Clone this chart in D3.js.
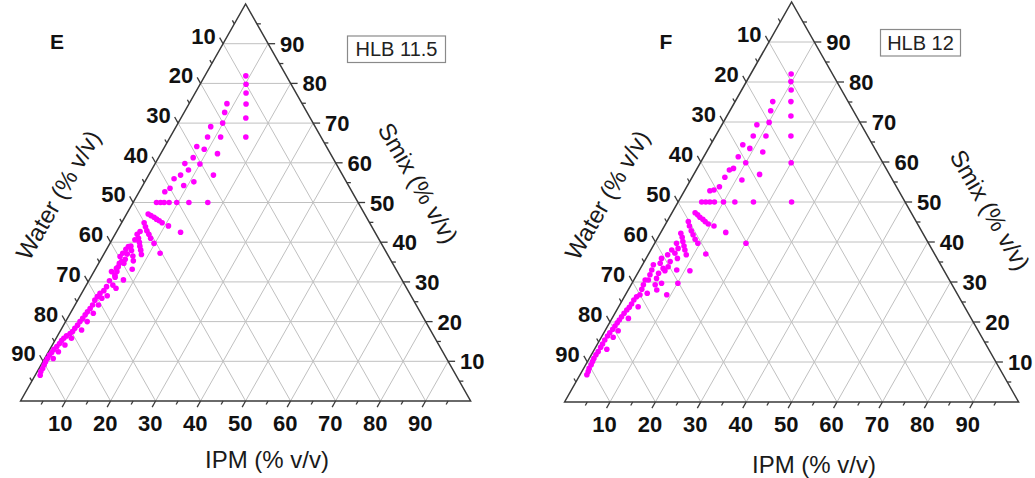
<!DOCTYPE html>
<html>
<head>
<meta charset="utf-8">
<script src="https://cdn.jsdelivr.net/npm/d3@7"></script>
<style>
  body { margin: 0; background: #fff; }
  text { font-family: "Liberation Sans", Arial, sans-serif; }
</style>
</head>
<body>
<svg id="chart" width="1035" height="478"></svg>
<script>
// ticks shared by all three ternary axes (% v/v)
const tickValues = [10, 20, 30, 40, 50, 60, 70, 80, 90];
const minorTickValues = [5, 15, 25, 35, 45, 55, 65, 75, 85, 95];

const ipmTitle = "IPM (% v/v)";
const waterTitle = "Water (% v/v)";
const smixTitle = "Smix (% v/v)";

const panelLetters = ["E", "F"];
const hlbLabels = ["HLB 11.5", "HLB 12"];

// boundary points as [IPM, Smix] (Water = 100 - IPM - Smix)
const pointsE = [
  [9.1, 81.9], [10.2, 79.8], [11.3, 77.6], [12.7, 74.8], [14.4, 71.3], [16.8, 66.5],
  [8.4, 74.9], [9.0, 72.7], [9.9, 70.0], [11.2, 66.5], [12.6, 62.3], [14.4, 56.9],
  [7.7, 69.1], [8.3, 66.5], [9.1, 63.4], [10.0, 59.7], [10.9, 55.2],
  [7.1, 64.1], [7.7, 61.3], [8.2, 58.2], [9.1, 54.3],
  [6.6, 59.8], [7.1, 56.9], [6.1, 56.0], [6.4, 53.6], [5.7, 52.7],
  [5.2, 50], [6.1, 50], [6.9, 50], [8.0, 50], [9.7, 50], [12.4, 50], [16.6, 50],
  [4.8, 47.1], [5.6, 46.7], [6.5, 46.3], [7.3, 45.8], [8.1, 45.4], [9.0, 44.9], [10.8, 44.1], [14.3, 42.5],
  [5.0, 44.9], [5.8, 43.9], [6.6, 42.9], [7.5, 42.0], [8.4, 41.0], [9.8, 39.7], [12.4, 37.2],
  [4.9, 42.0], [5.7, 41.0], [6.4, 40.0], [7.0, 39.0], [7.7, 38.0], [8.4, 36.9],
  [5.0, 39.0], [5.7, 37.9], [6.7, 36.5], [7.4, 35.3], [8.2, 33.2],
  [4.3, 38.2], [5.2, 37.0], [5.4, 35.7], [5.6, 34.7], [7.6, 30.5],
  [3.9, 36.4], [4.9, 35.1], [4.8, 33.8], [5.1, 32.6], [5.1, 31.7], [7.0, 28.4],
  [5.2, 42.7], [5.1, 40.6], [4.5, 38.9], [4.1, 37.2], [4.6, 34.7], [4.6, 33.4],
  [3.9, 32.6], [5.4, 31.2], [4.6, 30.3], [5.9, 29.2], [4.7, 28.8], [4.6, 27.8], [6.0, 26.5],
  [4.1, 27.1], [5.1, 25.9], [3.9, 26.3], [3.8, 25.4], [5.2, 24.2], [3.9, 24.2], [3.8, 23.3],
  [3.6, 22.5], [5.1, 22.1], [3.5, 21.7], [3.4, 20.8], [4.8, 20.0], [3.2, 20.0], [3.1, 19.1],
  [2.9, 18.3], [4.6, 17.9], [2.8, 17.5], [2.5, 17.0], [2.0, 16.4], [3.4, 15.8], [1.7, 15.8],
  [1.5, 15.2], [1.4, 14.5], [2.8, 14.1], [1.2, 13.7], [0.9, 13.0], [0.8, 12.2], [2.2, 12.4],
  [0.6, 11.6], [0.6, 10.7], [1.9, 10.7], [0.6, 9.9], [0.7, 9.1], [0.8, 8.2], [0.8, 7.4], [1.1, 6.5]
];

const pointsF = [
  [8.9, 82.0], [9.8, 80.1], [10.9, 78.0], [12.3, 75.1], [14.1, 71.5], [16.6, 66.5], [20.0, 59.8], [25.0, 50.0],
  [8.3, 75.1], [9.0, 72.8], [10.1, 69.9], [11.1, 66.5], [12.4, 62.5], [14.5, 56.9],
  [7.7, 69.3], [8.3, 66.5], [9.1, 63.4], [10.0, 59.8], [11.3, 55.5],
  [7.1, 64.3], [7.6, 61.3], [8.0, 58.4],
  [7.3, 58.0], [7.2, 56.2], [7.2, 53.8], [6.4, 53.0], [5.6, 52.8],
  [5.2, 50], [6.1, 50], [7.0, 50], [8.0, 50], [10.0, 50], [12.5, 50], [16.6, 50],
  [5.1, 47.3], [5.9, 46.8], [6.7, 46.2], [7.6, 45.7], [8.4, 45.1], [9.4, 44.5], [10.9, 44.0], [14.3, 42.4], [20.1, 39.7],
  [4.7, 45.1], [5.5, 44.0], [6.5, 42.8], [7.4, 41.8], [8.4, 40.7], [9.5, 39.7], [12.6, 37.0],
  [4.5, 42.2], [5.3, 41.2], [6.0, 40.1], [6.8, 39.0], [7.5, 38.0], [8.4, 36.8],
  [4.8, 39.7], [5.8, 38.4], [5.7, 37.2], [6.9, 35.9], [8.2, 33.0],
  [4.6, 38.0], [4.3, 36.8], [5.7, 35.1], [5.9, 33.8], [5.7, 32.8], [9.1, 26.8],
  [3.4, 35.9], [3.7, 34.7], [5.0, 33.4], [4.6, 32.2], [4.8, 30.9], [6.5, 29.7],
  [2.4, 34.3], [2.7, 33.0], [2.9, 31.8], [3.2, 30.5], [5.3, 29.3], [6.3, 28.0],
  [2.5, 30.5], [2.7, 29.3], [2.9, 28.2], [4.6, 27.2], [3.2, 26.8],
  [2.7, 26.3], [2.5, 25.5], [2.5, 24.5], [4.3, 23.8], [2.4, 23.7],
  [2.2, 23.0], [2.0, 22.2], [1.9, 21.3], [3.6, 20.9], [1.8, 20.5], [1.7, 19.8],
  [1.6, 19.0], [1.5, 18.2], [2.9, 17.8], [1.3, 17.3], [1.2, 16.5], [2.6, 16.2],
  [1.1, 15.5], [1.1, 14.5], [1.1, 13.7], [2.7, 13.2], [1.1, 12.6], [1.0, 11.8],
  [1.0, 10.9], [1.1, 10.1], [1.2, 9.3], [1.2, 8.4], [1.4, 7.6], [1.5, 6.8],
  [11.2, 32.8], [10.1, 29.7]
];

const svg = d3.select("#chart");
svg.append("rect").attr("width", 1035).attr("height", 478).attr("fill", "#fff");

const panels = [
  {
    data: pointsE, letter: panelLetters[0], hlb: hlbLabels[0],
    cx: 245.6, top: 4, base: 401, half: 225,
    letterPos: [57, 48.5],
    box: [347.5, 36, 98, 26.5], hlbBase: 56,
    waterPos: [58, 195], smixPos: [418, 183], ipmPos: [267, 468]
  },
  {
    data: pointsF, letter: panelLetters[1], hlb: hlbLabels[1],
    cx: 791.6, top: 2, base: 402, half: 227,
    letterPos: [666, 48.5],
    box: [880.5, 29.5, 80, 26.5], hlbBase: 50,
    waterPos: [607, 195], smixPos: [990, 210], ipmPos: [814, 473]
  }
];

function drawTernary(p) {
  const g = svg.append("g");
  // IPM runs along the base, Smix runs up to the apex
  const x = d3.scaleLinear().domain([0, 100]).range([p.cx - p.half, p.cx + p.half]);
  const y = d3.scaleLinear().domain([0, 100]).range([p.base, p.top]);
  const proj = (ipm, smix) => [x(ipm) + (x(smix) - x(0)) / 2, y(smix)];

  const apex = proj(0, 100), bl = proj(0, 0), br = proj(100, 0);
  const unit = (a, b) => {
    const dx = b[0] - a[0], dy = b[1] - a[1], l = Math.hypot(dx, dy);
    return [dx / l, dy / l];
  };
  const dirBottom = unit(apex, bl);   // down-left
  const dirLeft = unit(br, apex);     // up-left
  const dirRight = [1, 0];

  const line = d3.line();

  // grid
  const grid = g.append("g").attr("stroke", "#c0c0c0").attr("stroke-width", 1).attr("fill", "none");
  tickValues.forEach(v => {
    grid.append("path").attr("d", line([proj(v, 0), proj(v, 100 - v)]));           // IPM
    grid.append("path").attr("d", line([proj(0, 100 - v), proj(100 - v, 0)]));     // Water
    grid.append("path").attr("d", line([proj(0, v), proj(100 - v, v)]));           // Smix
  });

  // outline
  g.append("path")
    .attr("d", line([bl, br, apex]) + "Z")
    .attr("fill", "none").attr("stroke", "#3a3a3a").attr("stroke-width", 1.5)
    .attr("stroke-linejoin", "miter");

  // ticks
  const ticks = g.append("g").attr("stroke", "#3a3a3a").attr("stroke-width", 1.3);
  const addTick = (pt, dir, len) => {
    ticks.append("line")
      .attr("x1", pt[0]).attr("y1", pt[1])
      .attr("x2", pt[0] + dir[0] * len).attr("y2", pt[1] + dir[1] * len);
    return [pt[0] + dir[0] * len, pt[1] + dir[1] * len];
  };
  const labels = g.append("g").attr("font-size", 22).attr("font-weight", "bold").attr("fill", "#111");

  minorTickValues.forEach(v => {
    addTick(proj(v, 0), dirBottom, 4);
    addTick(proj(0, 100 - v), dirLeft, 4);
    addTick(proj(100 - v, v), dirRight, 4);
  });

  tickValues.forEach(v => {
    const eb = addTick(proj(v, 0), dirBottom, 7);
    labels.append("text").attr("x", eb[0] - 2).attr("y", eb[1] + 24)
      .attr("text-anchor", "middle").text(v);

    const el = addTick(proj(0, 100 - v), dirLeft, 7);
    labels.append("text").attr("x", el[0] - 4).attr("y", el[1] + 6)
      .attr("text-anchor", "end").text(v);

    const er = addTick(proj(100 - v, v), dirRight, 7);
    labels.append("text").attr("x", er[0] + 5).attr("y", er[1] + 8)
      .attr("text-anchor", "start").text(v);
  });

  // axis titles
  const titles = g.append("g").attr("font-size", 24).attr("fill", "#1a1a1a");
  titles.append("text").attr("x", p.ipmPos[0]).attr("y", p.ipmPos[1])
    .attr("text-anchor", "middle").text(ipmTitle);
  titles.append("text")
    .attr("transform", `translate(${p.waterPos[0]},${p.waterPos[1]}) rotate(-60)`)
    .attr("text-anchor", "middle").attr("dy", "0.35em").text(waterTitle);
  titles.append("text")
    .attr("transform", `translate(${p.smixPos[0]},${p.smixPos[1]}) rotate(60)`)
    .attr("text-anchor", "middle").attr("dy", "0.35em").text(smixTitle);

  // data points
  g.append("g").selectAll("circle")
    .data(p.data)
    .join("circle")
    .attr("cx", d => proj(d[0], d[1])[0])
    .attr("cy", d => proj(d[0], d[1])[1])
    .attr("r", 2.8)
    .attr("fill", "#ff00ff");

  // panel letter and HLB box
  g.append("text").attr("x", p.letterPos[0]).attr("y", p.letterPos[1])
    .attr("text-anchor", "middle").attr("font-size", 21).attr("font-weight", "bold")
    .attr("fill", "#111").text(p.letter);

  g.append("rect")
    .attr("x", p.box[0]).attr("y", p.box[1]).attr("width", p.box[2]).attr("height", p.box[3])
    .attr("fill", "#fff").attr("stroke", "#8a8a8a").attr("stroke-width", 1.2);
  g.append("text")
    .attr("x", p.box[0] + p.box[2] / 2).attr("y", p.hlbBase)
    .attr("text-anchor", "middle").attr("font-size", 20).attr("fill", "#222")
    .text(p.hlb);
}

panels.forEach(drawTernary);
</script>
</body>
</html>
